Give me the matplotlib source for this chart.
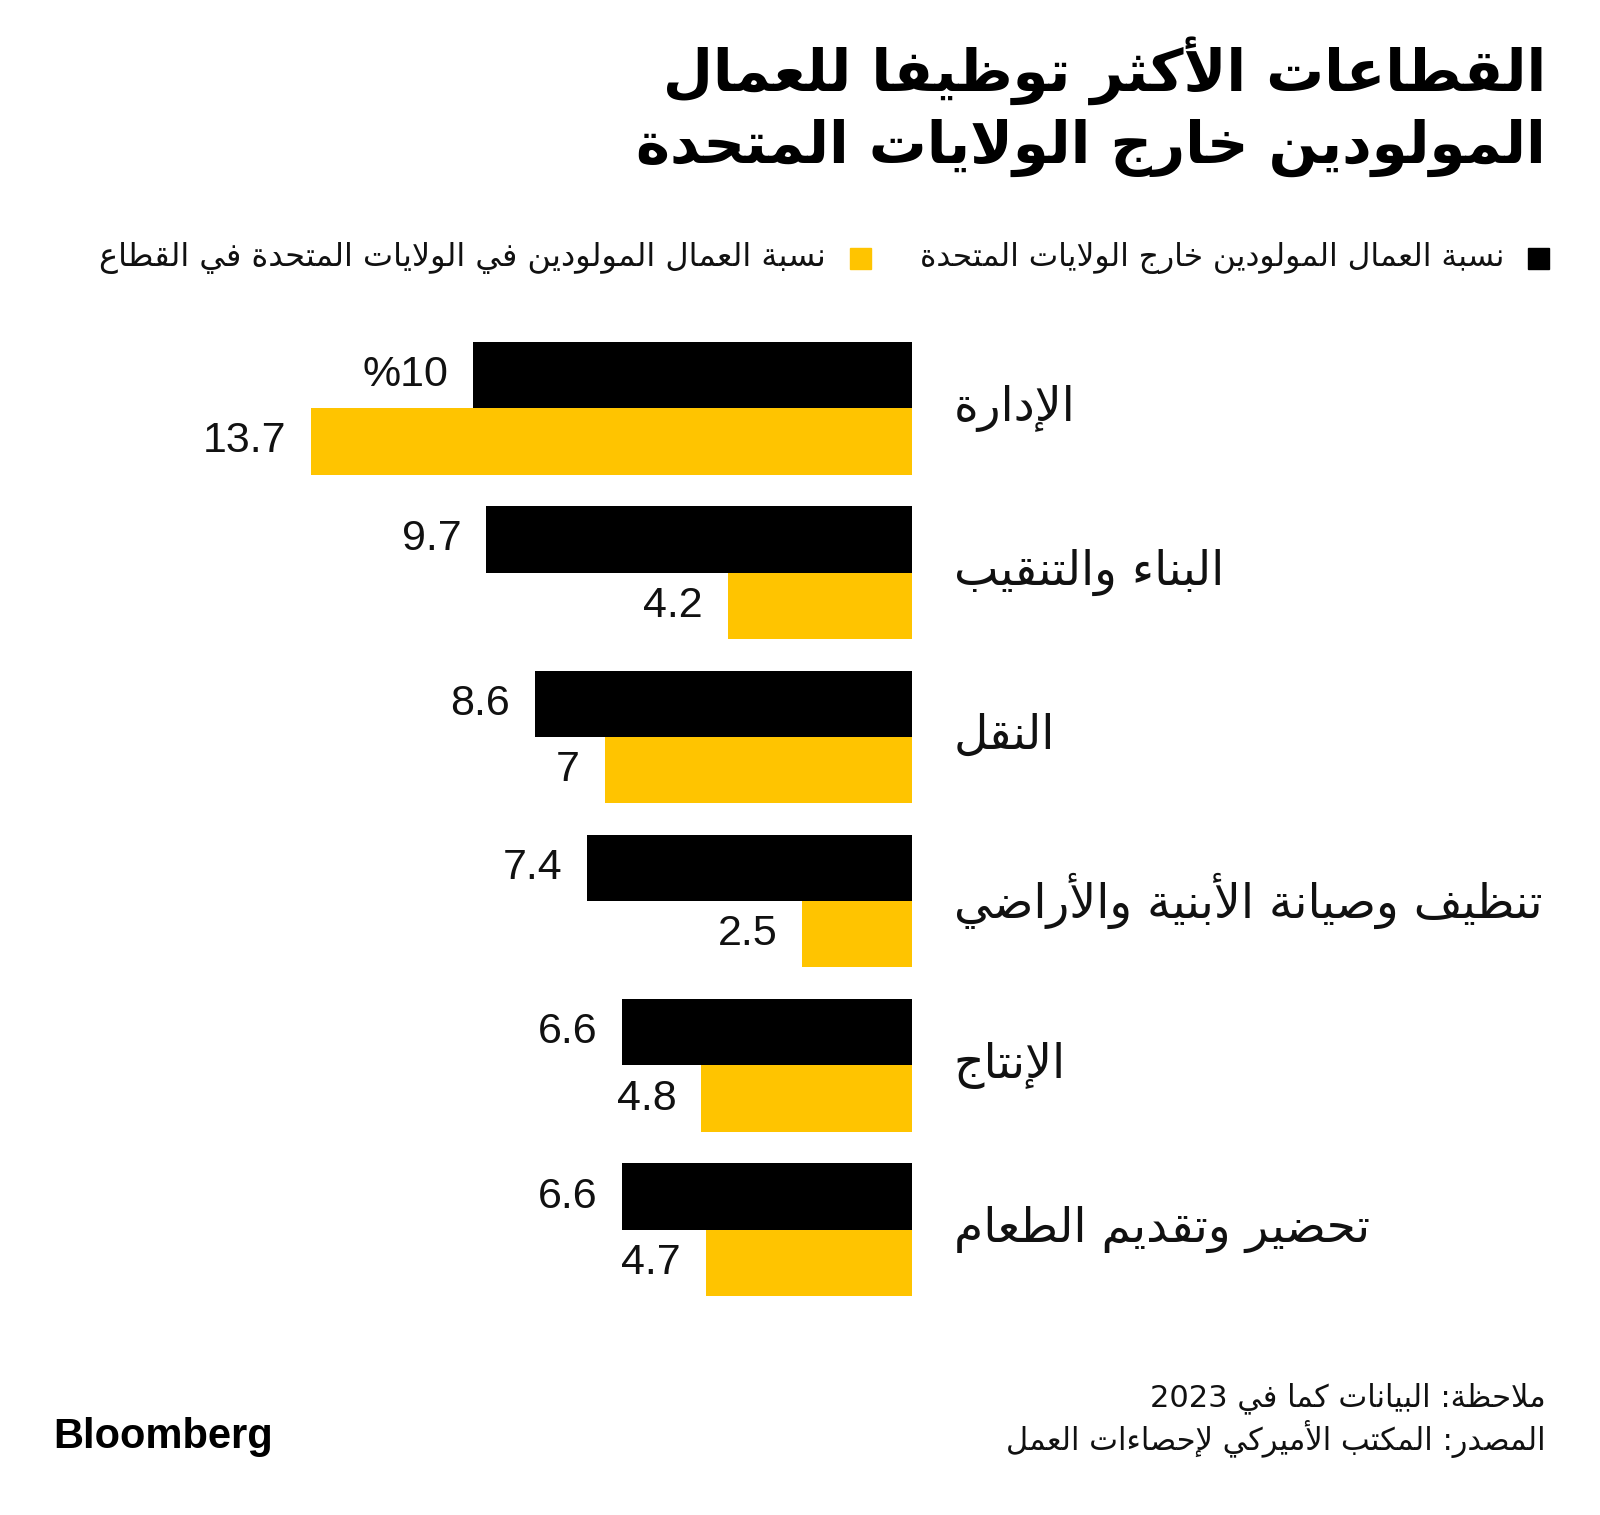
import re
import matplotlib
matplotlib.use("Agg")
import matplotlib.pyplot as plt

# data
categories = ['الإدارة', 'البناء والتنقيب', 'النقل', 'تنظيف وصيانة الأبنية والأراضي',
              'الإنتاج', 'تحضير وتقديم الطعام']
foreign_share = [10, 9.7, 8.6, 7.4, 6.6, 6.6]
native_share = [13.7, 4.2, 7, 2.5, 4.8, 4.7]
foreign_labels = ['%10', '9.7', '8.6', '7.4', '6.6', '6.6']
native_labels = ['13.7', '4.2', '7', '2.5', '4.8', '4.7']

title_lines = ['القطاعات الأكثر توظيفاً للعمال', 'المولودين خارج الولايات المتحدة']
legend_foreign = 'نسبة العمال المولودين خارج الولايات المتحدة'
legend_native = 'نسبة العمال المولودين في الولايات المتحدة في القطاع'
note_lines = ['ملاحظة: البيانات كما في 2023', 'المصدر: المكتب الأميركي لإحصاءات العمل']

BLACK = '#000000'
YELLOW = '#FFC400'

# --- small Arabic shaper: matplotlib does no joining or right-to-left ordering ---
DUAL = {'ئ': 0xFE89, 'ب': 0xFE8F, 'ت': 0xFE95, 'ث': 0xFE99, 'ج': 0xFE9D, 'ح': 0xFEA1,
        'خ': 0xFEA5, 'س': 0xFEB1, 'ش': 0xFEB5, 'ص': 0xFEB9, 'ض': 0xFEBD, 'ط': 0xFEC1,
        'ظ': 0xFEC5, 'ع': 0xFEC9, 'غ': 0xFECD, 'ف': 0xFED1, 'ق': 0xFED5, 'ك': 0xFED9,
        'ل': 0xFEDD, 'م': 0xFEE1, 'ن': 0xFEE5, 'ه': 0xFEE9, 'ي': 0xFEF1}
RIGHT = {'آ': 0xFE81, 'أ': 0xFE83, 'ؤ': 0xFE85, 'إ': 0xFE87, 'ا': 0xFE8D, 'ة': 0xFE93,
         'د': 0xFEA9, 'ذ': 0xFEAB, 'ر': 0xFEAD, 'ز': 0xFEAF, 'و': 0xFEED, 'ى': 0xFEEF}
LAM_ALEF = {'آ': 0xFEF5, 'أ': 0xFEF7, 'إ': 0xFEF9, 'ا': 0xFEFB}


def shape(text):
    text = ''.join(c for c in text if not '\u064B' <= c <= '\u0652')
    units = []
    i = 0
    while i < len(text):
        c = text[i]
        if c == 'ل' and i + 1 < len(text) and text[i + 1] in LAM_ALEF:
            units.append(('LA', text[i + 1]))
            i += 2
        else:
            units.append(('C', c))
            i += 1

    def kind(u):
        t, c = u
        if t == 'LA' or c in RIGHT:
            return 'R'
        if c in DUAL:
            return 'D'
        if c == 'ء':
            return 'N'
        return None

    out = []
    for k, u in enumerate(units):
        kd = kind(u)
        prev = kind(units[k - 1]) if k > 0 else None
        nxt = kind(units[k + 1]) if k + 1 < len(units) else None
        jp = kd in ('D', 'R') and prev == 'D'
        jn = kd == 'D' and nxt in ('D', 'R')
        t, c = u
        if t == 'LA':
            out.append(chr(LAM_ALEF[c] + (1 if jp else 0)))
        elif kd == 'D':
            out.append(chr(DUAL[c] + (3 if jp and jn else 1 if jp else 2 if jn else 0)))
        elif kd == 'R':
            out.append(chr(RIGHT[c] + (1 if jp else 0)))
        elif kd == 'N':
            out.append(chr(0xFE80))
        else:
            out.append(c)
    s = ''.join(out)[::-1]
    return re.sub(r'[0-9][0-9.,]*', lambda m: m.group(0)[::-1], s)


W, H = 1600, 1515
fig = plt.figure(figsize=(W / 100, H / 100), dpi=100)
fig.patch.set_facecolor('white')

def fx(px):
    return px / W

def fy(py):
    return 1 - py / H

# bar area: zero at x=912, 13.7 reaches x=311; top 342, bottom 1296
ax = fig.add_axes([fx(311), fy(1296), fx(912 - 311), (1296 - 342) / H])
h = 65 / 161
ys = list(range(len(categories)))
ax.barh([y - h / 2 for y in ys], foreign_share, height=h, color=BLACK)
ax.barh([y + h / 2 for y in ys], native_share, height=h, color=YELLOW)
ax.set_xlim(13.7, 0)
ax.set_ylim(len(categories) - 1 + h, -h)
ax.axis('off')

num_font = dict(family='Liberation Sans', fontsize=31, color='#111111')
for y, v, lab in zip(ys, foreign_share, foreign_labels):
    ax.annotate(lab, (v, y - h / 2), xytext=(-18, 0), textcoords='offset points',
                ha='right', va='center', **num_font)
for y, v, lab in zip(ys, native_share, native_labels):
    ax.annotate(lab, (v, y + h / 2), xytext=(-18, 0), textcoords='offset points',
                ha='right', va='center', **num_font)

for y, cat in zip(ys, categories):
    ax.annotate(shape(cat), (0, y), xytext=(30, 0), textcoords='offset points',
                ha='left', va='center', family='DejaVu Sans', fontsize=34, color='#111111')

# title
for line, py in zip(title_lines, [71, 148]):
    fig.text(fx(1546), fy(py), shape(line), ha='right', va='center',
             family='DejaVu Sans', fontweight='bold', fontsize=41.5, color='black')

# legend
fig.patches.append(plt.Rectangle((fx(1528), fy(269)), fx(21), 21 / H, color=BLACK,
                                 transform=fig.transFigure))
fig.text(fx(1504), fy(258), shape(legend_foreign), ha='right', va='center',
         family='DejaVu Sans', fontsize=22.5, color='#111111')
fig.patches.append(plt.Rectangle((fx(850), fy(269)), fx(21), 21 / H, color=YELLOW,
                                 transform=fig.transFigure))
fig.text(fx(826), fy(258), shape(legend_native), ha='right', va='center',
         family='DejaVu Sans', fontsize=23, color='#111111')

# footer
for line, py in zip(note_lines, [1398, 1439]):
    fig.text(fx(1546), fy(py), shape(line), ha='right', va='center',
             family='DejaVu Sans', fontsize=22, color='#111111')
fig.text(fx(53), fy(1437), 'Bloomberg', ha='left', va='center',
         family='Liberation Sans', fontweight='bold', fontsize=30, color='black')

fig.savefig('out.png', dpi=100, facecolor='white')
